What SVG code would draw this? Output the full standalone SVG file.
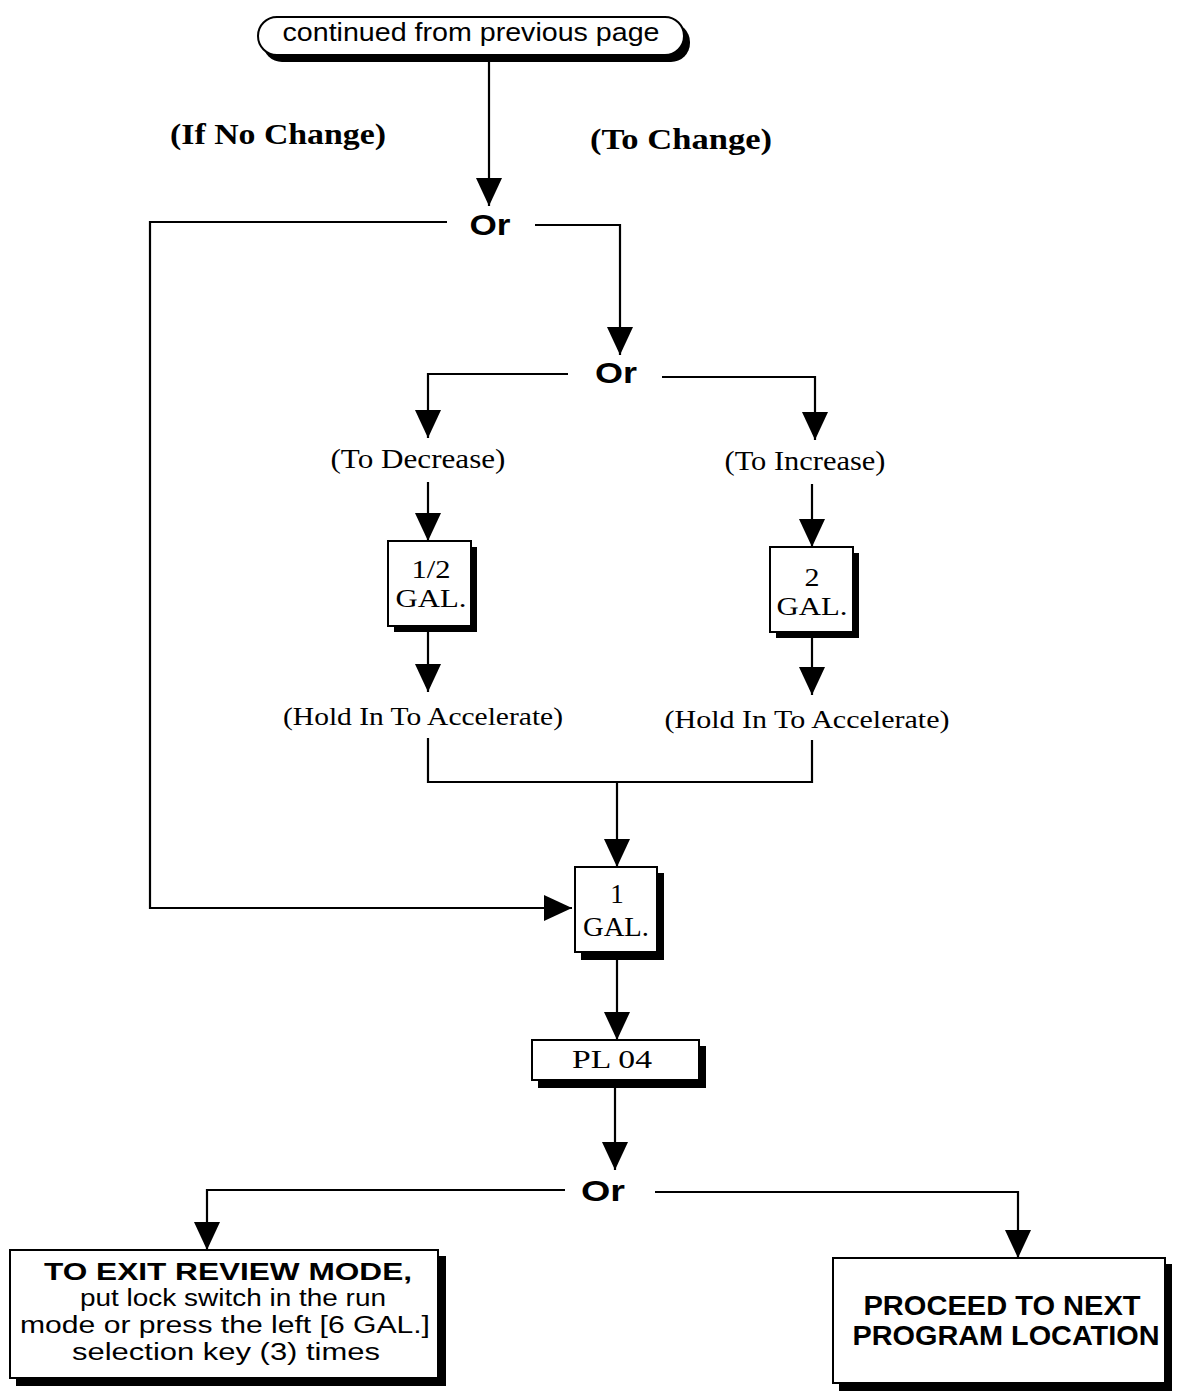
<svg xmlns="http://www.w3.org/2000/svg" width="1182" height="1392" viewBox="0 0 1182 1392">
<style>
.bg{fill:#fff}
.ln{fill:none;stroke:#000;stroke-width:2.2}
.box{fill:#fff;stroke:#000;stroke-width:2}
.sh{fill:#000}
.sans{font-family:"Liberation Sans",Arial,sans-serif;fill:#000}
.serif{font-family:"Liberation Serif","Times New Roman",serif;fill:#000}
.or{font-family:"Liberation Sans",Arial,sans-serif;font-weight:bold;font-size:30px;fill:#000}
</style>
<defs>
<marker id="ah" viewBox="0 0 28 26" refX="28" refY="13" markerWidth="28" markerHeight="26" markerUnits="userSpaceOnUse" orient="auto">
<path d="M0,0 L28,13 L0,26 z" fill="#000"/>
</marker>
</defs>
<rect class="bg" x="0" y="0" width="1182" height="1392"/>

<g id="connectors">
<path class="ln" d="M489,58 V206" marker-end="url(#ah)"/>
<path class="ln" d="M447,222 H150 V908 H572" marker-end="url(#ah)"/>
<path class="ln" d="M535,225 H620 V355" marker-end="url(#ah)"/>
<path class="ln" d="M568,374 H428 V438" marker-end="url(#ah)"/>
<path class="ln" d="M662,377 H815 V440" marker-end="url(#ah)"/>
<path class="ln" d="M428,482 V541" marker-end="url(#ah)"/>
<path class="ln" d="M812,484 V547" marker-end="url(#ah)"/>
<path class="ln" d="M428,630 V692" marker-end="url(#ah)"/>
<path class="ln" d="M812,636 V695" marker-end="url(#ah)"/>
<path class="ln" d="M428,738 V782 H812 V740"/>
<path class="ln" d="M617,782 V867" marker-end="url(#ah)"/>
<path class="ln" d="M617,958 V1040" marker-end="url(#ah)"/>
<path class="ln" d="M615,1086 V1170" marker-end="url(#ah)"/>
<path class="ln" d="M565,1190 H207 V1250" marker-end="url(#ah)"/>
<path class="ln" d="M655,1192 H1018 V1258" marker-end="url(#ah)"/>
</g>

<g id="start">
<rect class="sh" x="263" y="23" width="427" height="39" rx="19"/>
<rect class="box" x="258" y="17" width="426" height="38" rx="19"/>
<text class="sans" x="471" y="41" font-size="26" text-anchor="middle" textLength="377" lengthAdjust="spacingAndGlyphs">continued from previous page</text>
</g>

<g id="label-no-change"><text class="serif" x="278" y="144" font-size="29" font-weight="bold" text-anchor="middle" textLength="216" lengthAdjust="spacingAndGlyphs">(If No Change)</text></g>
<g id="label-change"><text class="serif" x="681" y="149" font-size="29" font-weight="bold" text-anchor="middle" textLength="182" lengthAdjust="spacingAndGlyphs">(To Change)</text></g>

<g id="or1"><text class="or" x="490" y="235" text-anchor="middle" textLength="41" lengthAdjust="spacingAndGlyphs">Or</text></g>
<g id="or2"><text class="or" x="616" y="383" text-anchor="middle" textLength="42" lengthAdjust="spacingAndGlyphs">Or</text></g>

<g id="label-decrease"><text class="serif" x="418" y="468" font-size="27" text-anchor="middle" textLength="175" lengthAdjust="spacingAndGlyphs">(To Decrease)</text></g>
<g id="label-increase"><text class="serif" x="805" y="470" font-size="27" text-anchor="middle" textLength="161" lengthAdjust="spacingAndGlyphs">(To Increase)</text></g>

<g id="key-half">
<rect class="sh" x="394" y="547" width="83" height="85"/>
<rect class="box" x="388" y="541" width="83" height="85"/>
<text class="serif" x="431" y="578" font-size="25" text-anchor="middle" textLength="39" lengthAdjust="spacingAndGlyphs">1/2</text>
<text class="serif" x="431" y="607" font-size="25" text-anchor="middle" textLength="71" lengthAdjust="spacingAndGlyphs">GAL.</text>
</g>

<g id="key-two">
<rect class="sh" x="776" y="553" width="83" height="85"/>
<rect class="box" x="770" y="547" width="83" height="85"/>
<text class="serif" x="812" y="586" font-size="25" text-anchor="middle" textLength="15" lengthAdjust="spacingAndGlyphs">2</text>
<text class="serif" x="812" y="615" font-size="25" text-anchor="middle" textLength="71" lengthAdjust="spacingAndGlyphs">GAL.</text>
</g>

<g id="hold-left"><text class="serif" x="423" y="725" font-size="26" text-anchor="middle" textLength="280" lengthAdjust="spacingAndGlyphs">(Hold In To Accelerate)</text></g>
<g id="hold-right"><text class="serif" x="807" y="728" font-size="26" text-anchor="middle" textLength="285" lengthAdjust="spacingAndGlyphs">(Hold In To Accelerate)</text></g>

<g id="key-one">
<rect class="sh" x="581" y="873" width="83" height="87"/>
<rect class="box" x="575" y="867" width="82" height="85"/>
<text class="serif" x="617" y="903" font-size="27" text-anchor="middle">1</text>
<text class="serif" x="616" y="936" font-size="27" text-anchor="middle" textLength="66" lengthAdjust="spacingAndGlyphs">GAL.</text>
</g>

<g id="pl04">
<rect class="sh" x="538" y="1046" width="168" height="42"/>
<rect class="box" x="532" y="1040" width="167" height="40"/>
<text class="serif" x="612" y="1068" font-size="26" text-anchor="middle" textLength="80" lengthAdjust="spacingAndGlyphs">PL 04</text>
</g>

<g id="or3"><text class="or" x="603" y="1201" text-anchor="middle" textLength="44" lengthAdjust="spacingAndGlyphs">Or</text></g>

<g id="exit">
<rect class="sh" x="16" y="1256" width="430" height="130"/>
<rect class="box" x="10" y="1250" width="428" height="128"/>
<text class="sans" x="228" y="1280" font-size="23" font-weight="bold" text-anchor="middle" textLength="368" lengthAdjust="spacingAndGlyphs">TO EXIT REVIEW MODE,</text>
<text class="sans" x="233" y="1306" font-size="23" text-anchor="middle" textLength="306" lengthAdjust="spacingAndGlyphs">put lock switch in the run</text>
<text class="sans" x="225" y="1333" font-size="23" text-anchor="middle" textLength="410" lengthAdjust="spacingAndGlyphs">mode or press the left [6 GAL.]</text>
<text class="sans" x="226" y="1360" font-size="23" text-anchor="middle" textLength="308" lengthAdjust="spacingAndGlyphs">selection key (3) times</text>
</g>

<g id="proceed">
<rect class="sh" x="839" y="1264" width="333" height="127"/>
<rect class="box" x="833" y="1258" width="332" height="125"/>
<text class="sans" x="1002" y="1315" font-size="27" font-weight="bold" text-anchor="middle" textLength="277" lengthAdjust="spacingAndGlyphs">PROCEED TO NEXT</text>
<text class="sans" x="1006" y="1345" font-size="27" font-weight="bold" text-anchor="middle" textLength="307" lengthAdjust="spacingAndGlyphs">PROGRAM LOCATION</text>
</g>
</svg>
